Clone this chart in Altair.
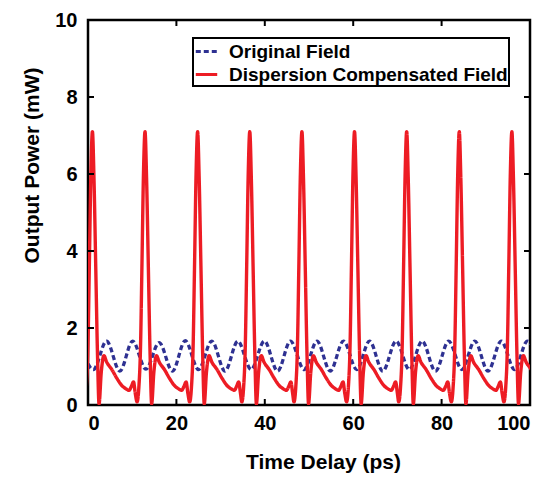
import altair as alt
import pandas as pd

# ---- data ----
series_names = ["Original Field", "Dispersion Compensated Field"]

# red: peak times (ps) and one pulse period shape (offset from peak, mW)
peak_times = [1.0, 12.9, 24.8, 36.6, 48.4, 60.3, 72.1, 84.0, 95.9]
pulse_offsets = [-1.8, -1.4, -1.0, -0.7, -0.35, 0.0, 0.35, 0.75, 1.15, 1.5,
                 2.0, 2.6, 3.2, 4.4, 5.5, 6.7, 7.6, 8.3, 8.8, 9.3, 9.7]
pulse_values = [0.08, 0.45, 1.6, 3.6, 6.0, 7.1, 5.9, 3.6, 1.3, 0.03,
                0.85, 1.28, 1.12, 0.92, 0.7, 0.5, 0.42, 0.38, 0.48, 0.6, 0.3]

# blue: extrema of the original field (ps, mW)
blue_times = [-1.8, 1.2, 4.2, 7.2, 10.1, 13.1, 16.1, 19.1, 22.0, 25.0, 28.0,
              31.0, 33.9, 36.9, 39.9, 42.9, 45.8, 48.9, 51.8, 54.8, 57.8,
              60.8, 63.7, 66.7, 69.7, 72.7, 75.6, 78.6, 81.6, 84.6, 87.5,
              90.5, 93.5, 96.5, 99.4, 102.5]
blue_values = [1.66, 0.92, 1.66, 0.88, 1.66, 0.93, 1.62, 0.88, 1.67, 0.92, 1.66,
               0.88, 1.66, 0.92, 1.66, 0.88, 1.66, 0.92, 1.66, 0.88, 1.66,
               0.92, 1.66, 0.88, 1.66, 0.92, 1.66, 0.88, 1.66, 0.92, 1.66,
               0.88, 1.66, 0.92, 1.66, 0.88]

x_ticks = [0, 20, 40, 60, 80, 100]
y_ticks = [0, 2, 4, 6, 8, 10]

# ---- build tables ----
rows = []
for p in peak_times:
    for o, v in zip(pulse_offsets, pulse_values):
        rows.append({"t": round(p + o, 3), "P": v, "series": series_names[1]})
for t, v in zip(blue_times, blue_values):
    rows.append({"t": t, "P": v, "series": series_names[0]})
df = pd.DataFrame(rows)

W, H = 442, 385
FONT = "Liberation Sans"

color_scale = alt.Scale(domain=series_names, range=["#2e3192", "#ed1c24"])
dash_scale = alt.Scale(domain=series_names, range=[[5, 3], [1, 0]])

leg = alt.Legend(title=None, orient="none", legendX=105, legendY=18,
                 fillColor="white", strokeColor="black", padding=1,
                 labelFont=FONT, labelFontSize=19, labelFontWeight="bold",
                 labelColor="black", labelLimit=600, symbolType="stroke",
                 symbolSize=460, symbolStrokeWidth=3, rowPadding=0, labelOffset=10)

xenc = alt.X("t:Q", scale=alt.Scale(domain=[0, 100], nice=False),
             axis=alt.Axis(values=x_ticks, title="Time Delay (ps)", ticks=False,
                           domain=False, grid=False, labelPadding=8,
                           titleX=235, titleY=57, titleBaseline="middle"))
yenc = alt.Y("P:Q", scale=alt.Scale(domain=[0, 10], nice=False),
             axis=alt.Axis(values=y_ticks, title="Output Power (mW)", ticks=False,
                           domain=False, grid=False, labelPadding=11,
                           titleX=-56, titleY=145, titleBaseline="middle",
                           titleAlign="center"))

def line_layer(name, sw):
    return alt.Chart(df).transform_filter(alt.datum.series == name).mark_line(
        strokeWidth=sw, clip=True, interpolate="monotone"
    ).encode(
        x=xenc, y=yenc,
        color=alt.Color("series:N", scale=color_scale, sort=series_names, legend=leg),
        strokeDash=alt.StrokeDash("series:N", scale=dash_scale, sort=series_names, legend=leg),
    )

blue = line_layer(series_names[0], 3.3)
red = line_layer(series_names[1], 3.4)

xt = pd.DataFrame({"v": x_ticks})
yt = pd.DataFrame({"v": y_ticks})
tick_style = dict(color="black", strokeWidth=2)
xb = alt.Chart(xt).mark_rule(**tick_style).encode(x="v:Q", y=alt.value(H), y2=alt.value(H - 6))
xtp = alt.Chart(xt).mark_rule(**tick_style).encode(x="v:Q", y=alt.value(0), y2=alt.value(6))
yl = alt.Chart(yt).mark_rule(**tick_style).encode(y="v:Q", x=alt.value(0), x2=alt.value(6))
yr = alt.Chart(yt).mark_rule(**tick_style).encode(y="v:Q", x=alt.value(W), x2=alt.value(W - 6))

chart = alt.layer(blue, red, xb, xtp, yl, yr).properties(
    width=W, height=H,
    autosize=alt.AutoSizeParams(type="none"),
    padding={"left": 80, "top": 12, "right": 13, "bottom": 70},
    background="white",
).configure_view(stroke="black", strokeWidth=2.5).configure_axis(
    labelFont=FONT, labelFontSize=20, labelFontWeight="bold", labelColor="black",
    titleFont=FONT, titleFontSize=21, titleFontWeight="bold", titleColor="black",
).configure_legend(strokeWidth=2)

chart.save("out.html", embed_options={"renderer": "svg", "actions": False})
